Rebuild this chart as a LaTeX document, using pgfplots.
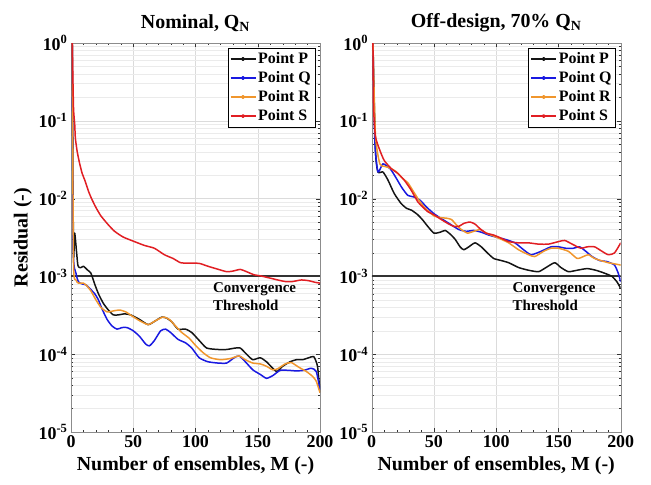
\documentclass[border=0pt]{standalone}
\usepackage{fontspec}
\setmainfont{Liberation Serif}
\usepackage{pgfplots}
\pgfplotsset{compat=1.18}

\definecolor{cP}{RGB}{20,20,20}
\definecolor{cQ}{RGB}{25,25,225}
\definecolor{cR}{RGB}{240,150,45}
\definecolor{cS}{RGB}{225,30,35}

% shared look of both panels
\pgfplotsset{
  every axis/.append style={
    scale only axis, width=249bp, height=389bp,
    xmin=0, xmax=200, ymin=1e-5, ymax=1,
    xtick={0,50,100,150,200},
    xticklabels={0,50,100,150,200},
    minor x tick num=4,
    ytick={1e-5,1e-4,1e-3,1e-2,1e-1,1},
    yticklabels={10\textsuperscript{-5},10\textsuperscript{-4},10\textsuperscript{-3},
                 10\textsuperscript{-2},10\textsuperscript{-1},10\textsuperscript{0}},
    xmajorgrids, ymajorgrids, yminorgrids,
    major grid style={black!14},
    minor grid style={black!8},
    axis line style={black!45},
    tick style={black!80},
    tick align=inside,
    major tick length=4bp, minor tick length=2bp,
    ticklabel style={font=\fontsize{18}{20}\selectfont\bfseries},
    label style={font=\fontsize{20}{22}\selectfont\bfseries},
    title style={font=\fontsize{20}{22}\selectfont\bfseries, yshift=2bp},
    xlabel={Number of ensembles, M (-)},
    xlabel style={yshift=-2bp},
    legend style={at={(1,1)}, anchor=north east, xshift=-5bp, yshift=-5bp,
      font=\fontsize{16}{18}\selectfont\bfseries, draw=black, fill=white,
      inner xsep=2bp, inner ysep=2.5bp, row sep=2.5bp,
      cells={anchor=west}},
  },
  every axis plot/.append style={line width=1.5pt, line join=round},
  res/.style={smooth, tension=0.35},
  thr/.style={black!80, line width=1.9pt, forget plot},
}
\pgfplotsset{
  legend image code/.code={
    \draw[#1, line width=1.2pt, sharp plot] (0bp,0bp) -- (25bp,0bp);
    \fill[#1] (12.5bp,0bp) circle (1.3bp);
  },
}

\begin{document}
\begin{tikzpicture}
\path[use as bounding box] (-71bp,-53bp) rectangle (580bp,432bp);

% ---------- nominal flow rate ----------
\begin{semilogyaxis}[at={(0,0)}, anchor=south west,
  title={Nominal, Q\textsubscript{N}}, ylabel={Residual (-)}]
\addplot[thr] coordinates {(0,1e-3) (200,1e-3)};
\addplot[res, color=cP] coordinates {
(1,1) (2,0.002) (3,0.0036) (5.5,0.0014) (8,0.0013) (10,0.00135) (13.5,0.0012)
(16,0.0011) (19,0.0008) (22,0.0006) (26,0.00045) (30,0.00037) (34,0.00032)
(38,0.00032) (43,0.00033) (48,0.00032) (55,0.00028) (62,0.00024) (68,0.00027)
(73,0.0003) (77,0.00029) (81,0.00026) (86,0.00021) (92,0.00021) (97,0.00019)
(103,0.00015) (109,0.00012) (118,0.000115) (125,0.000115) (132,0.00012)
(136,0.00012) (141,0.0001) (146,0.000085) (152,0.00009) (157,0.00008)
(165,0.00006) (170,0.00007) (176,0.00008) (181,0.000085) (186,0.000085)
(191,0.00009) (195,0.000093) (198,0.00007) (200,0.000032)};
\addlegendentry{Point P}
\addplot[res, color=cQ] coordinates {
(1,1) (1.8,0.0022) (4,0.0011) (6,0.00085) (9,0.0008) (12,0.00078) (15,0.0007)
(19,0.0006) (22,0.0005) (25,0.00038) (29,0.00028) (33,0.00023) (37,0.00021)
(41,0.00022) (45,0.00022) (50,0.0002) (55,0.00017) (60,0.000135) (63,0.000128)
(67,0.00015) (72,0.0002) (76,0.00021) (80,0.00019) (86,0.000155) (92,0.00014)
(97,0.00012) (103,0.00009) (110,0.00008) (118,0.000077) (125,0.000077)
(131,0.00009) (135,0.000095) (140,0.00008) (146,0.000063) (152,0.000055)
(157,0.000049) (162,0.000053) (168,0.000062) (175,0.000062) (181,0.000061)
(187,0.000062) (193,0.000066) (197,0.00006) (200,0.000035)};
\addlegendentry{Point Q}
\addplot[res, color=cR] coordinates {
(1,1) (2,0.0015) (4,0.0009) (6,0.00082) (10,0.00082) (13,0.00075) (16,0.00065)
(20,0.0005) (24,0.0004) (29,0.00035) (34,0.00036) (39,0.00037) (44,0.00035)
(49,0.00031) (55,0.00027) (62,0.00024) (68,0.00027) (74,0.0003) (79,0.00028)
(84,0.00023) (89,0.00019) (95,0.00016) (100,0.00013) (106,0.000105)
(112,0.00009) (120,0.000085) (128,0.000088) (135,0.000095) (140,0.000085)
(146,0.000077) (152,0.000075) (157,0.00007) (162,0.000063) (166,0.000065)
(172,0.000075) (177,0.000078) (183,0.000068) (189,0.00006) (194,0.000052)
(197,0.000045) (200,0.000032)};
\addlegendentry{Point R}
\addplot[res, color=cS] coordinates {
(1,1) (2,0.15) (3,0.09) (3.5,0.06) (5,0.04) (7,0.028) (9,0.021) (11,0.0174)
(14,0.0125) (16.5,0.01) (20,0.0077) (24,0.006) (30,0.0046) (35,0.0038)
(42,0.0032) (51,0.0028) (59,0.0025) (67,0.0023) (75,0.0019) (82,0.0017)
(88,0.0015) (95,0.00148) (103,0.00147) (110,0.00135) (117,0.00125)
(125,0.00115) (130,0.00117) (136,0.00123) (141,0.00115) (147,0.00105)
(153,0.00101) (160,0.00095) (166,0.0009) (172,0.00086) (178,0.00086)
(185,0.0009) (191,0.00088) (196,0.00084) (200,0.00082)};
\addlegendentry{Point S}
\node[anchor=north west, align=left, inner sep=0pt, yshift=-6bp,
  font=\fontsize{15}{18}\selectfont\bfseries] at (axis cs:114,1e-3)
  {Convergence\\Threshold};
\end{semilogyaxis}

% ---------- off-design, 70% of nominal ----------
\begin{semilogyaxis}[at={(300.7bp,0)}, anchor=south west,
  title={Off-design, 70\% Q\textsubscript{N}}]
\addplot[thr] coordinates {(0,1e-3) (200,1e-3)};
\addplot[res, color=cP] coordinates {
(1,1) (3,0.042) (5,0.022) (9,0.022) (13,0.0174) (18,0.0117) (23.5,0.0087)
(28,0.0075) (32,0.0071) (37,0.0062) (41,0.0053) (45,0.0044) (50,0.0036)
(55,0.0037) (59,0.0039) (63,0.0035) (67,0.003) (71,0.0024) (74,0.0022)
(78,0.0024) (83,0.0027) (88,0.0024) (93,0.002) (98,0.0017) (104,0.0016)
(110,0.0015) (118,0.0013) (126,0.0012) (134,0.00115) (140,0.0013)
(147,0.0015) (152,0.0013) (158,0.00115) (165,0.0012) (173,0.00126)
(180,0.0012) (187,0.0011) (193,0.001) (197,0.00085) (200,0.0007)};
\addlegendentry{Point P}
\addplot[res, color=cQ] coordinates {
(1,1) (2.5,0.055) (5,0.022) (9,0.028) (15,0.024) (20,0.018) (24,0.014)
(29,0.011) (34,0.0105) (39,0.0095) (44,0.0078) (50,0.0064) (57,0.0054)
(63,0.0047) (70,0.004) (76,0.0038) (82,0.0039) (88,0.0037) (94,0.0034)
(100,0.0032) (107,0.003) (115,0.0027) (122,0.0022) (128,0.0019) (136,0.0021)
(144,0.0024) (150,0.0024) (156,0.0023) (162,0.0023) (167,0.0024) (172,0.0021)
(177,0.0018) (183,0.0016) (189,0.00155) (195,0.0014) (198,0.0011)
(200,0.00085)};
\addlegendentry{Point Q}
\addplot[res, color=cR] coordinates {
(1,1) (3,0.065) (6.5,0.028) (10,0.026) (14,0.025) (20,0.022) (25,0.018)
(29,0.016) (34,0.012) (38,0.0095) (42,0.0078) (46,0.0068) (50,0.006)
(55,0.0057) (60,0.0056) (64,0.0054) (68,0.0046) (72,0.004) (77,0.0036)
(82,0.0038) (87,0.004) (92,0.0036) (98,0.0033) (104,0.003) (110,0.0027)
(118,0.0022) (126,0.0019) (131,0.0018) (138,0.0021) (144,0.0023) (150,0.0023)
(158,0.0021) (165,0.0017) (170,0.0018) (174,0.0019) (179,0.0017) (184,0.0016)
(190,0.0015) (195,0.00145) (200,0.0014)};
\addlegendentry{Point R}
\addplot[res, color=cS] coordinates {
(1,1) (1.5,0.15) (3,0.063) (6.5,0.042) (10,0.031) (15.5,0.0245) (21,0.021)
(26,0.0174) (31.5,0.013) (37,0.0091) (41,0.0078) (45,0.0068) (50,0.0062)
(55,0.0055) (61,0.0048) (66,0.0044) (70,0.0044) (74,0.0048) (79,0.005)
(83,0.0047) (87,0.0041) (92,0.0036) (98,0.0034) (104,0.0031) (110,0.0028)
(118,0.0027) (126,0.0027) (134,0.0026) (142,0.0026) (150,0.0028) (155,0.0029)
(161,0.0026) (168,0.0023) (173,0.0024) (179,0.0024) (185,0.0021) (190,0.0019)
(195,0.002) (200,0.0027)};
\addlegendentry{Point S}
\node[anchor=north west, align=left, inner sep=0pt, yshift=-6bp,
  font=\fontsize{15}{18}\selectfont\bfseries] at (axis cs:113,1e-3)
  {Convergence\\Threshold};
\end{semilogyaxis}
\end{tikzpicture}
\end{document}
